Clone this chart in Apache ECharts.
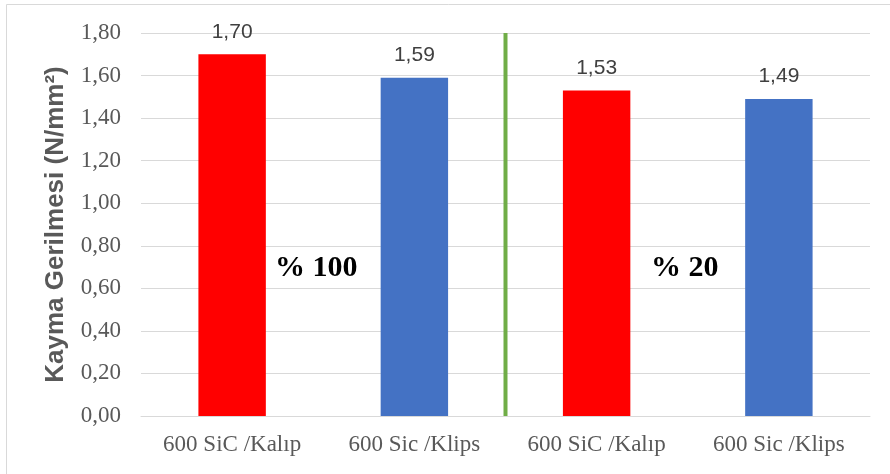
<!DOCTYPE html>
<html>
<head>
<meta charset="utf-8">
<script src="https://cdn.jsdelivr.net/npm/echarts@6/dist/echarts.min.js"></script>
<style>
  html, body { margin: 0; padding: 0; background: #fff; }
  #chart { width: 890px; height: 474px; }
</style>
</head>
<body>
<div id="chart"></div>
<script>
// Shear stress by surface/fixing method at two mixture ratios
const categories = ['600 SiC /Kalıp', '600 Sic /Klips', '600 SiC /Kalıp', '600 Sic /Klips'];
const values = [1.70, 1.59, 1.53, 1.49];
const barColors = ['#FF0000', '#4472C4', '#FF0000', '#4472C4'];
const groupLabels = ['% 100', '% 20'];
// divider sits between the two groups (after the 2nd category)
const dividerAt = 2;
const yMin = 0, yMax = 1.8, yStep = 0.2;

const fmt = v => v.toFixed(2).replace('.', ',');

const chart = echarts.init(document.getElementById('chart'));

chart.setOption({
  animation: false,
  backgroundColor: '#fff',
  grid: { left: 141, right: 20, top: 33, bottom: 58, containLabel: false },
  xAxis: [{
    type: 'category',
    data: categories,
    axisLine: { show: true, lineStyle: { color: '#D9D9D9', width: 1 } },
    axisTick: { show: false },
    axisLabel: {
      interval: 0, hideOverlap: false,
      color: '#595959', fontFamily: 'Liberation Serif', fontSize: 23, margin: 17
    }
  }, {
    // hidden linear axis over the same span, used to place the group divider
    type: 'value', min: 0, max: categories.length, show: false
  }],
  yAxis: {
    type: 'value',
    min: yMin, max: yMax, interval: yStep,
    name: 'Kayma Gerilmesi (N/mm²)',
    nameLocation: 'middle',
    nameGap: 72,
    nameTextStyle: {
      color: '#595959', fontFamily: 'Liberation Sans', fontSize: 26, fontWeight: 'bold'
    },
    axisLine: { show: false },
    axisTick: { show: false },
    splitLine: { lineStyle: { color: '#D9D9D9', width: 1 } },
    axisLabel: {
      color: '#595959', fontFamily: 'Liberation Serif', fontSize: 23, margin: 20,
      formatter: v => fmt(v)
    }
  },
  series: [{
    type: 'bar',
    barWidth: '37%',
    data: values.map((v, i) => ({ value: v, itemStyle: { color: barColors[i] } })),
    label: {
      show: true, position: 'top', distance: 12,
      color: '#404040', fontFamily: 'Liberation Sans', fontSize: 21,
      formatter: p => fmt(p.value)
    }
  }, {
    type: 'line',
    xAxisIndex: 1,
    data: [[dividerAt, yMin], [dividerAt, yMax]],
    symbol: 'none',
    silent: true,
    lineStyle: { color: '#70AD47', width: 4 },
    z: 1
  }],
  graphic: [
    {
      type: 'rect', silent: true, z: -1,
      shape: { x: 6.5, y: 4.5, width: 1000, height: 1000 },
      style: { fill: 'none', stroke: '#D9D9D9', lineWidth: 1 }
    },
    {
      type: 'text', left: 275, top: 253,
      style: { text: groupLabels[0], fill: '#000', font: 'bold 30px "Liberation Serif"' }
    },
    {
      type: 'text', left: 651, top: 253,
      style: { text: groupLabels[1], fill: '#000', font: 'bold 30px "Liberation Serif"' }
    }
  ]
});
</script>
</body>
</html>
